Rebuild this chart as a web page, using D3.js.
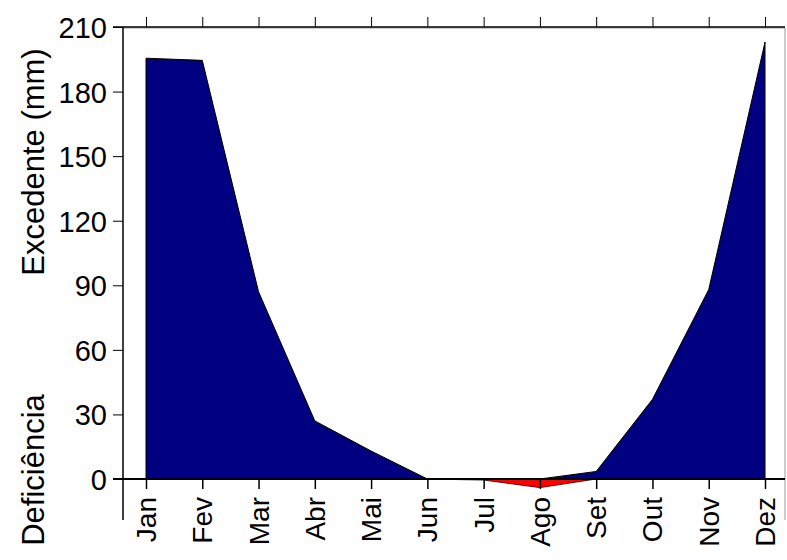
<!DOCTYPE html>
<html><head><meta charset="utf-8">
<script src="https://cdn.jsdelivr.net/npm/d3@7"></script>
<style>body{margin:0;background:#fff;font-family:"Liberation Sans",Arial,sans-serif}</style>
</head><body><div id="chart"></div>
<script>
const months = ['Jan','Fev','Mar','Abr','Mai','Jun','Jul','Ago','Set','Out','Nov','Dez'];
const excedente = [195.5, 194.5, 87, 27, 13, 0, 0, 0, 3.5, 37, 88, 203];
const deficiencia = [0, 0, 0, 0, 0, 0, -0.5, -4, 0, 0, 0, 0];
const yTicks = [0, 30, 60, 90, 120, 150, 180, 210];

const W = 787, H = 560;
const svg = d3.select('#chart').append('svg').attr('width', W).attr('height', H);

const x = d3.scalePoint().domain(months).range([146, 765]);
const y = d3.scaleLinear().domain([0, 210]).range([479, 27]);
const left = 123, right = 785, bottom = y(-19);

// frame (grey)
svg.append('path').attr('d', `M${left},28H${right}V${bottom}`).attr('fill', 'none').attr('stroke', '#999').attr('stroke-width', 1);

const area = d3.area().x((d, i) => x(months[i])).y0(y(0)).y1(d => y(d));
svg.append('path').datum(excedente).attr('d', area).attr('fill', '#000080').attr('stroke', '#000').attr('stroke-width', 1);
svg.append('path').datum(deficiencia).attr('d', area).attr('fill', '#ff0000').attr('stroke', '#000').attr('stroke-width', 0.8);

// left axis
const ya = svg.append('g').attr('transform', `translate(${left},0)`)
  .call(d3.axisLeft(y).tickValues(yTicks).tickSize(10).tickPadding(6));
ya.select('.domain').remove();
ya.selectAll('.tick text').style('font-size', '29px').style('font-family', '"Liberation Sans",Arial,sans-serif').attr('dy', '0.36em');
ya.selectAll('.tick line').attr('stroke', '#000');
svg.append('line').attr('x1', left).attr('x2', left).attr('y1', y(210)).attr('y2', bottom).attr('stroke', '#000').attr('stroke-width', 1.5);

// top axis
const ta = svg.append('g').attr('transform', `translate(0,${y(210)})`).call(d3.axisTop(x).tickSize(10).tickFormat(''));
ta.select('.domain').remove();
svg.append('line').attr('x1', left - 10).attr('x2', right).attr('y1', y(210)).attr('y2', y(210)).attr('stroke', '#000').attr('stroke-width', 1.5);

// zero axis with months
const xa = svg.append('g').attr('transform', `translate(0,${y(0)})`).call(d3.axisBottom(x).tickSize(10).tickFormat(''));
xa.select('.domain').remove();
xa.selectAll('.tick line').attr('stroke-width', 1.5);
svg.append('line').attr('x1', left - 10).attr('x2', right).attr('y1', y(0)).attr('y2', y(0)).attr('stroke', '#000').attr('stroke-width', 2);

svg.append('g').selectAll('text').data(months).join('text')
  .attr('transform', d => `translate(${x(d) + 10},497) rotate(-90)`)
  .attr('text-anchor', 'end').style('font-size', '28px').text(d => d);

svg.append('text').attr('transform', 'translate(44,162) rotate(-90)').attr('text-anchor', 'middle').style('font-size', '31px').text('Excedente (mm)');
svg.append('text').attr('transform', 'translate(44,470) rotate(-90)').attr('text-anchor', 'middle').style('font-size', '31px').text('Deficiência');
</script></body></html>
